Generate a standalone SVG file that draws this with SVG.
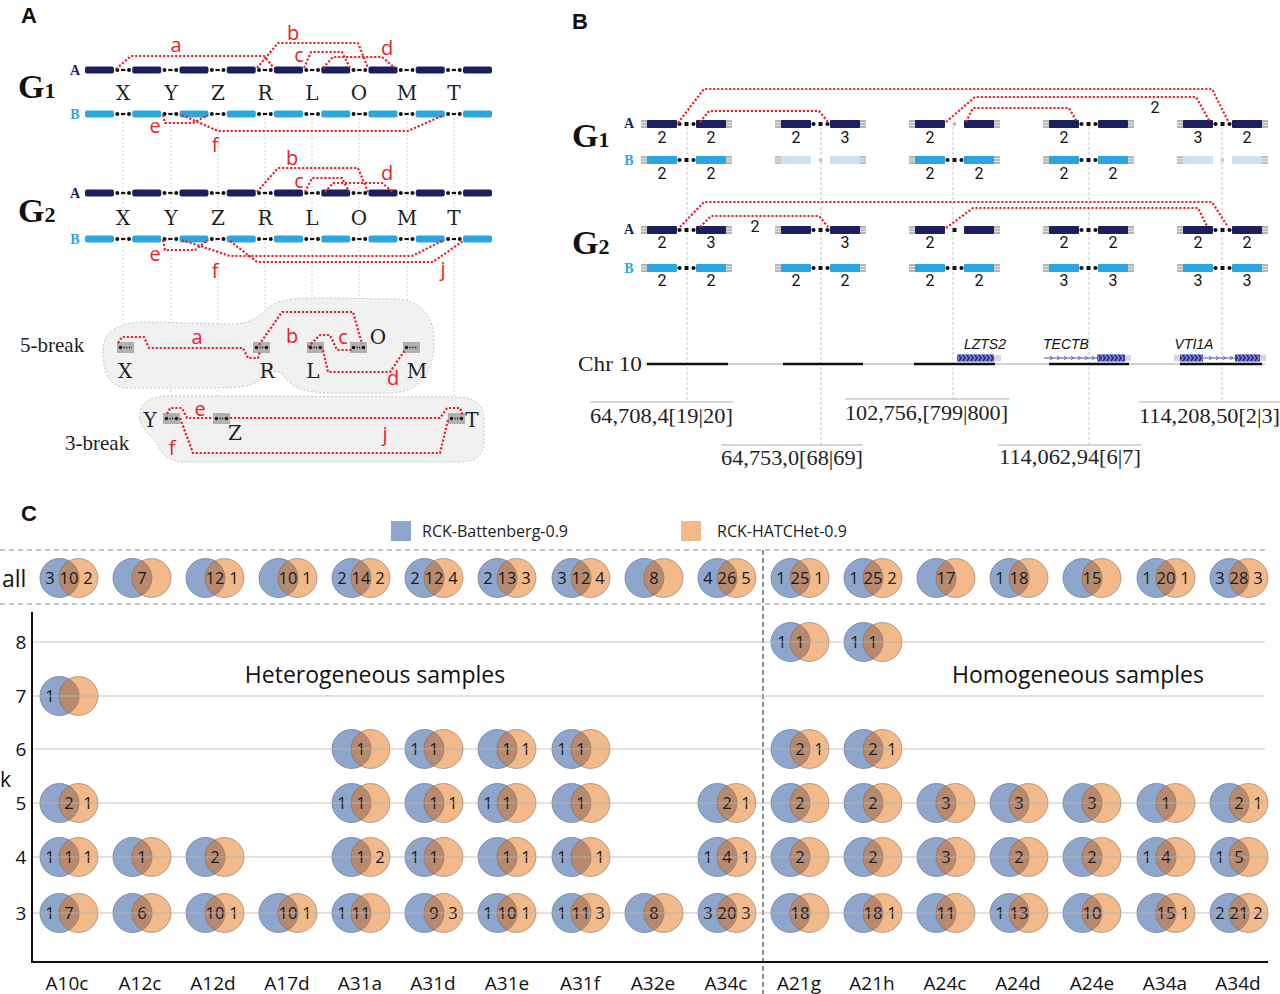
<svg xmlns="http://www.w3.org/2000/svg" width="1280" height="994" viewBox="0 0 1280 994">
<style>
.lbl{font-family:"Liberation Sans",Arial,sans-serif;font-weight:bold;font-size:22px;fill:#111}
.G{font-family:"Liberation Serif",serif;font-weight:bold;fill:#111}
.ab{font-family:"Liberation Serif",serif;font-weight:bold;font-size:14px;text-anchor:middle}
.let{font-family:"DejaVu Serif","Liberation Serif",serif;font-size:20px;fill:#222;text-anchor:middle}
.red{fill:none;stroke:#e8232b;stroke-width:2.2;stroke-dasharray:2.2 1.8}
.rl{font-family:"Open Sans","Liberation Sans",sans-serif;font-size:20px;fill:#e8232b;text-anchor:middle}
.guide{stroke:#c6c6c6;stroke-width:0.8;stroke-dasharray:2 2;fill:none}
.blob{fill:#f1f1f1;stroke:#c4c4c4;stroke-width:1;stroke-dasharray:2 2}
.srf{font-family:"Liberation Serif",serif;font-size:21px;fill:#222}
.bn{font-family:Roboto,"Open Sans",sans-serif;font-size:16px;fill:#111;text-anchor:middle}
.gene{font-family:"Liberation Sans",Arial,sans-serif;font-style:italic;font-size:14px;text-anchor:middle;fill:#111}
.coord{font-family:"Liberation Serif",serif;font-size:22px;fill:#222}
.ovl{stroke:#c8c8c8;stroke-width:1.5}
.bguide{stroke:#b8b8b8;stroke-width:0.8;stroke-dasharray:3 2;fill:none}
.cb{fill:#8ea6cc;stroke:#6c7f9e;stroke-width:0.8}
.co{fill:#e46d0b;fill-opacity:0.48;stroke:#6f5a48;stroke-opacity:0.6;stroke-width:0.8}
.cn{font-family:"Open Sans","Liberation Sans",sans-serif;font-size:16.5px;fill:#1a1a1a;text-anchor:middle}
.ax{font-family:"Open Sans","Liberation Sans",sans-serif;font-size:19px;fill:#111;text-anchor:middle}
.grid{stroke:#b5b5b5;stroke-width:1.2;opacity:0.8}
.big{font-family:"Open Sans","Liberation Sans",sans-serif;font-size:23px;fill:#111;text-anchor:middle}
.leg{font-family:"Open Sans","Liberation Sans",sans-serif;font-size:16px;fill:#222}
</style>
<defs>
<g id="segs">
<rect x="85" y="-3.5" width="29" height="7" rx="2"/><rect x="132.25" y="-3.5" width="29" height="7" rx="2"/><rect x="179.5" y="-3.5" width="29" height="7" rx="2"/><rect x="226.75" y="-3.5" width="29" height="7" rx="2"/><rect x="274" y="-3.5" width="29" height="7" rx="2"/><rect x="321.25" y="-3.5" width="29" height="7" rx="2"/><rect x="368.5" y="-3.5" width="29" height="7" rx="2"/><rect x="415.75" y="-3.5" width="29" height="7" rx="2"/><rect x="463" y="-3.5" width="29" height="7" rx="2"/>
</g>
<g id="gap" fill="#111"><circle cx="3.3" r="2"/><rect x="7" y="-1.1" width="4.3" height="2.2"/><circle cx="15" r="2"/></g>
<g id="gaps">
<use href="#gap" x="114"/><use href="#gap" x="161.25"/><use href="#gap" x="208.5"/><use href="#gap" x="255.75"/><use href="#gap" x="303"/><use href="#gap" x="350.25"/><use href="#gap" x="397.5"/><use href="#gap" x="444.75"/>
</g>
<g id="pair">
<rect x="-6" y="-4" width="7" height="8" fill="#b5b5b5"/><rect x="78" y="-4" width="7" height="8" fill="#b5b5b5"/>
<path d="M-6,-1.3H0M-6,1.3H0M79,-1.3H85M79,1.3H85" stroke="#fff" stroke-width="0.7"/>
<rect x="0" y="-4" width="30" height="8" rx="1"/><rect x="49" y="-4" width="30" height="8" rx="1"/>
</g>
<g id="bgap"><circle cx="32.5" r="2.1"/><rect x="37.5" y="-2" width="4" height="4"/><circle cx="46.5" r="2.1"/></g>
<g id="bx"><rect width="17" height="11" fill="#b0b0b0"/><circle cx="3.5" cy="5.5" r="1.7" fill="#111"/><line x1="6.5" y1="5.5" x2="11.5" y2="5.5" stroke="#111" stroke-width="1.3" stroke-dasharray="1.2 1.2"/><circle cx="13.5" cy="5.5" r="1.7" fill="#111"/></g>
<g id="bx1"><rect width="17" height="11" fill="#b0b0b0"/><circle cx="3.5" cy="5.5" r="1.7" fill="#111"/><line x1="6.5" y1="5.5" x2="15" y2="5.5" stroke="#111" stroke-width="1.3" stroke-dasharray="1.2 1.5"/></g>
<g id="v"><circle cx="-9.5" r="19.5" class="cb"/><circle cx="9.5" r="19.5" class="co"/></g>
<pattern id="chev" width="4" height="8" patternUnits="userSpaceOnUse" y="354"><path d="M0.6,0.6L3.2,4L0.6,7.4" fill="none" stroke="#fff" stroke-width="0.7"/></pattern>
</defs>

<rect width="1280" height="994" fill="#fff"/>

<!-- ============ PANEL A ============ -->
<text class="lbl" x="21" y="23">A</text>
<g id="A-guides">
<path class="guide" d="M123,118V340M171,118V412M218,118V412M265,118V342M312,118V342M359,118V342M407,118V342M454,118V412"/>
</g>
<g id="A-G1">
<text class="G" x="18" y="98" font-size="34">G<tspan font-size="22">1</tspan></text>
<text class="ab" x="75" y="75" fill="#1c1f5e">A</text>
<text class="ab" x="75" y="119" fill="#2aa7df">B</text>
<use href="#segs" y="70" fill="#1c1f5e"/><use href="#gaps" y="70"/>
<use href="#segs" y="114" fill="#2aa7df"/><use href="#gaps" y="114"/>
<text class="let" x="123" y="100">X</text><text class="let" x="171" y="100">Y</text><text class="let" x="218" y="100">Z</text><text class="let" x="265" y="100">R</text><text class="let" x="312" y="100">L</text><text class="let" x="359" y="100">O</text><text class="let" x="407" y="100">M</text><text class="let" x="454" y="100">T</text>
</g>
<g id="A-G2">
<text class="G" x="18" y="222" font-size="34">G<tspan font-size="22">2</tspan></text>
<text class="ab" x="75" y="198" fill="#1c1f5e">A</text>
<text class="ab" x="75" y="244" fill="#2aa7df">B</text>
<use href="#segs" y="193" fill="#1c1f5e"/><use href="#gaps" y="193"/>
<use href="#segs" y="239" fill="#2aa7df"/><use href="#gaps" y="239"/>
<text class="let" x="123" y="225">X</text><text class="let" x="171" y="225">Y</text><text class="let" x="218" y="225">Z</text><text class="let" x="265" y="225">R</text><text class="let" x="312" y="225">L</text><text class="let" x="359" y="225">O</text><text class="let" x="407" y="225">M</text><text class="let" x="454" y="225">T</text>
</g>
<g id="A-5break">
<path class="blob" d="M103,350C103,330 120,322 150,322L225,324C250,325 258,318 268,308C280,298 300,298 330,298L395,299C420,300 434,315 434,340C434,372 420,393 390,393L330,393C300,393 290,385 283,375C276,368 268,372 260,380C250,388 230,388 200,388L130,388C110,388 103,375 103,350Z"/>
<text class="srf" x="20" y="352">5-break</text>
<use href="#bx1" x="117" y="342"/><use href="#bx" x="253" y="342"/><use href="#bx" x="307" y="342"/><use href="#bx" x="350" y="342"/><use href="#bx1" x="403" y="342"/>
<text class="let" x="125" y="378">X</text><text class="let" x="267" y="378">R</text><text class="let" x="313" y="378">L</text><text class="let" x="378" y="344">O</text><text class="let" x="417" y="378">M</text>
</g>
<g id="A-3break">
<path class="blob" d="M140,418C138,402 152,396 170,396L455,397C475,397 484,405 484,420L484,440C484,455 476,462 460,462L185,462C170,462 162,455 158,445C154,436 141,432 140,418Z"/>
<text class="srf" x="65" y="450">3-break</text>
<use href="#bx" x="163" y="413"/><use href="#bx" x="213" y="413"/><use href="#bx" x="448" y="413"/>
<text class="let" x="150" y="427">Y</text><text class="let" x="235" y="440">Z</text><text class="let" x="472" y="427">T</text>
</g>
<g id="A-connectors">
<path class="red" d="M116,69L131,56L264,56L274,68"/>
<path class="red" d="M257,68L278,43L358,43L368,68"/>
<path class="red" d="M304,68L311,52L342,52L350,68"/>
<path class="red" d="M323,68L333,57L382,57L395,68"/>
<path class="red" d="M163,115L165,123L193,123L208,115"/>
<path class="red" d="M182,115L218,131L408,131L444,115"/>
<path class="red" d="M257,192L278,168L358,168L368,192"/>
<path class="red" d="M305,192L312,178L342,178L349,192"/>
<path class="red" d="M325,192L333,183L382,183L393,192"/>
<path class="red" d="M163,240L165,250L195,250L208,240"/>
<path class="red" d="M182,240L230,256L412,256L444,240"/>
<path class="red" d="M230,241L257,262L433,262L463,241"/>
<path class="red" d="M118,343L122,337L144,337L149,348L243,348L248,358L258,358L260,351"/>
<path class="red" d="M259,345L282,312L353,312L362,344"/>
<path class="red" d="M308,347L320,335L330,335L337,350L352,350"/>
<path class="red" d="M323,350L328,372L390,372L405,350"/>
<path class="red" d="M167,414L170,408L182,408L187,418L213,418"/>
<path class="red" d="M230,418L440,418L447,408L460,408L463,416"/>
<path class="red" d="M180,418L193,453L440,453L448,420"/>
<text class="rl" x="176" y="52">a</text><text class="rl" x="293" y="40">b</text><text class="rl" x="299" y="62">c</text><text class="rl" x="387" y="55">d</text><text class="rl" x="155" y="133">e</text><text class="rl" x="215" y="152">f</text>
<text class="rl" x="292" y="165">b</text><text class="rl" x="299" y="188">c</text><text class="rl" x="387" y="180">d</text><text class="rl" x="155" y="261">e</text><text class="rl" x="215" y="278">f</text><text class="rl" x="443" y="276">j</text>
<text class="rl" x="197" y="344">a</text><text class="rl" x="292" y="343">b</text><text class="rl" x="343" y="344">c</text><text class="rl" x="393" y="385">d</text>
<text class="rl" x="200" y="416">e</text><text class="rl" x="385" y="441">j</text><text class="rl" x="172" y="455">f</text>
</g>

<!-- ============ PANEL B ============ -->
<text class="lbl" x="572" y="29">B</text>
<g id="B-guides"><path class="bguide" d="M687,127V402M821,127V445M953,127V399M1089,127V445M1222,127V402"/></g>
<g id="B-G1">
<text class="G" x="572" y="147" font-size="34">G<tspan font-size="22">1</tspan></text>
<text class="ab" x="629" y="128" fill="#1c1f5e">A</text>
<text class="ab" x="629" y="165" fill="#2aa7df">B</text>
<use href="#pair" x="647" y="124" fill="#1c1f5e"/><use href="#bgap" x="647" y="124" fill="#111"/>
<use href="#pair" x="781" y="124" fill="#1c1f5e"/><use href="#bgap" x="781" y="124" fill="#111"/>
<use href="#pair" x="915" y="124" fill="#1c1f5e"/><circle cx="954.5" cy="124" r="2" fill="#bdbdbd"/>
<use href="#pair" x="1049" y="124" fill="#1c1f5e"/><use href="#bgap" x="1049" y="124" fill="#111"/>
<use href="#pair" x="1183" y="124" fill="#1c1f5e"/><use href="#bgap" x="1183" y="124" fill="#111"/>
<use href="#pair" x="647" y="160" fill="#29a6df"/><use href="#bgap" x="647" y="160" fill="#111"/>
<use href="#pair" x="781" y="160" fill="#c3ddf2" opacity="0.85"/><circle cx="820.5" cy="160" r="2" fill="#c8c8c8"/>
<use href="#pair" x="915" y="160" fill="#29a6df"/><use href="#bgap" x="915" y="160" fill="#111"/>
<use href="#pair" x="1049" y="160" fill="#29a6df"/><use href="#bgap" x="1049" y="160" fill="#111"/>
<use href="#pair" x="1183" y="160" fill="#c3ddf2" opacity="0.85"/><circle cx="1222.5" cy="160" r="2" fill="#c8c8c8"/>
<text class="bn" x="662" y="143">2</text><text class="bn" x="711" y="143">2</text><text class="bn" x="796" y="143">2</text><text class="bn" x="845" y="143">3</text><text class="bn" x="930" y="143">2</text><text class="bn" x="1064" y="143">2</text><text class="bn" x="1198" y="143">3</text><text class="bn" x="1247" y="143">2</text>
<text class="bn" x="662" y="179">2</text><text class="bn" x="711" y="179">2</text><text class="bn" x="930" y="179">2</text><text class="bn" x="979" y="179">2</text><text class="bn" x="1064" y="179">2</text><text class="bn" x="1113" y="179">2</text>
</g>
<g id="B-G2">
<text class="G" x="572" y="254" font-size="34">G<tspan font-size="22">2</tspan></text>
<text class="ab" x="629" y="234" fill="#1c1f5e">A</text>
<text class="ab" x="629" y="273" fill="#2aa7df">B</text>
<use href="#pair" x="647" y="230" fill="#1c1f5e"/><use href="#bgap" x="647" y="230" fill="#111"/>
<use href="#pair" x="781" y="230" fill="#1c1f5e"/><use href="#bgap" x="781" y="230" fill="#111"/>
<use href="#pair" x="915" y="230" fill="#1c1f5e"/><rect x="952.5" y="228" width="4" height="4" fill="#111"/>
<use href="#pair" x="1049" y="230" fill="#1c1f5e"/><use href="#bgap" x="1049" y="230" fill="#111"/>
<use href="#pair" x="1183" y="230" fill="#1c1f5e"/><use href="#bgap" x="1183" y="230" fill="#111"/>
<use href="#pair" x="647" y="268" fill="#29a6df"/><use href="#bgap" x="647" y="268" fill="#111"/>
<use href="#pair" x="781" y="268" fill="#29a6df"/><use href="#bgap" x="781" y="268" fill="#111"/>
<use href="#pair" x="915" y="268" fill="#29a6df"/><use href="#bgap" x="915" y="268" fill="#111"/>
<use href="#pair" x="1049" y="268" fill="#29a6df"/><use href="#bgap" x="1049" y="268" fill="#111"/>
<use href="#pair" x="1183" y="268" fill="#29a6df"/><use href="#bgap" x="1183" y="268" fill="#111"/>
<text class="bn" x="662" y="248">2</text><text class="bn" x="711" y="248">3</text><text class="bn" x="845" y="248">3</text><text class="bn" x="930" y="248">2</text><text class="bn" x="1064" y="248">2</text><text class="bn" x="1113" y="248">2</text><text class="bn" x="1198" y="248">2</text><text class="bn" x="1247" y="248">2</text>
<text class="bn" x="662" y="286">2</text><text class="bn" x="711" y="286">2</text><text class="bn" x="796" y="286">2</text><text class="bn" x="845" y="286">2</text><text class="bn" x="930" y="286">2</text><text class="bn" x="979" y="286">2</text><text class="bn" x="1064" y="286">3</text><text class="bn" x="1113" y="286">3</text><text class="bn" x="1198" y="286">3</text><text class="bn" x="1247" y="286">3</text>
</g>
<g id="B-connectors">
<path class="red" d="M678,123L704,89L1212,89L1229,123"/>
<path class="red" d="M946,122L975,97L1196,97L1210,122"/>
<path class="red" d="M700,122L709,111L819,111L828,122"/>
<path class="red" d="M966,122L973,108L1069,108L1077,122"/>
<path class="red" d="M680,227L704,202L1212,202L1228,227"/>
<path class="red" d="M946,228L973,208L1198,208L1207,226"/>
<path class="red" d="M700,227L711,216L819,216L828,227"/>
<text class="bn" x="1155" y="113">2</text>
<text class="bn" x="755" y="232">2</text>
</g>
<g id="B-chr">
<text class="srf" x="578" y="371" textLength="64" lengthAdjust="spacingAndGlyphs">Chr 10</text>
<line x1="645" y1="364" x2="1265" y2="364" stroke="#d0d0d0" stroke-width="2"/>
<path d="M647,364H728M783,364H863M914,364H995M1049,364H1129M1180,364H1262" stroke="#111" stroke-width="2.5"/>
</g>
<g id="B-genes">
<text class="gene" x="985" y="349">LZTS2</text>
<text class="gene" x="1066" y="349">TECTB</text>
<text class="gene" x="1194" y="349">VTI1A</text>
<rect x="957" y="354.5" width="37" height="7" fill="#2d33a0"/><rect x="957" y="354.5" width="37" height="7" fill="url(#chev)"/>
<path d="M994,356H1001M994,358H1001M994,360H1001" stroke="#999" stroke-width="0.8"/>
<line x1="1044" y1="358" x2="1097" y2="358" stroke="#3a3fb0" stroke-width="0.9"/>
<path d="M1050,356l2.5,2l-2.5,2M1057,356l2.5,2l-2.5,2M1064,356l2.5,2l-2.5,2M1071,356l2.5,2l-2.5,2M1078,356l2.5,2l-2.5,2M1085,356l2.5,2l-2.5,2M1092,356l2.5,2l-2.5,2" fill="none" stroke="#3a3fb0" stroke-width="0.8"/>
<rect x="1097" y="354.5" width="28" height="7" fill="#2d33a0"/><rect x="1097" y="354.5" width="28" height="7" fill="url(#chev)"/>
<path d="M1125,356H1131M1125,358H1131M1125,360H1131" stroke="#999" stroke-width="0.8"/>
<path d="M1174,356H1180M1174,358H1180M1174,360H1180" stroke="#999" stroke-width="0.8"/>
<rect x="1180" y="354.5" width="23" height="7" fill="#2d33a0"/><rect x="1180" y="354.5" width="23" height="7" fill="url(#chev)"/>
<line x1="1203" y1="358" x2="1235" y2="358" stroke="#3a3fb0" stroke-width="0.9"/>
<path d="M1209,356l2.5,2l-2.5,2M1216,356l2.5,2l-2.5,2M1223,356l2.5,2l-2.5,2M1230,356l2.5,2l-2.5,2" fill="none" stroke="#3a3fb0" stroke-width="0.8"/>
<rect x="1235" y="354.5" width="25" height="7" fill="#2d33a0"/><rect x="1235" y="354.5" width="25" height="7" fill="url(#chev)"/>
<path d="M1260,356H1266M1260,358H1266M1260,360H1266" stroke="#999" stroke-width="0.8"/>
</g>
<g id="B-coords">
<line class="ovl" x1="590" y1="402" x2="733" y2="402"/><text class="coord" x="590" y="423" textLength="143" lengthAdjust="spacingAndGlyphs">64,708,4[19|20]</text>
<line class="ovl" x1="721" y1="445" x2="863" y2="445"/><text class="coord" x="721" y="465" textLength="142" lengthAdjust="spacingAndGlyphs">64,753,0[68|69]</text>
<line class="ovl" x1="845" y1="399" x2="1009" y2="399"/><text class="coord" x="845" y="420" textLength="163" lengthAdjust="spacingAndGlyphs">102,756,[799|800]</text>
<line class="ovl" x1="998" y1="445" x2="1141" y2="445"/><text class="coord" x="999" y="464" textLength="142" lengthAdjust="spacingAndGlyphs">114,062,94[6|7]</text>
<line class="ovl" x1="1139" y1="402" x2="1280" y2="402"/><text class="coord" x="1139" y="423" textLength="141" lengthAdjust="spacingAndGlyphs">114,208,50[2|3]</text>
</g>

<!-- ============ PANEL C ============ -->
<text class="lbl" x="21" y="521">C</text>
<g id="legend">
<rect x="391" y="521" width="20" height="20" fill="#8ea6cc"/>
<text class="leg" x="422" y="537">RCK-Battenberg-0.9</text>
<rect x="681" y="521" width="20" height="20" fill="#f2b98a"/>
<text class="leg" x="717" y="537">RCK-HATCHet-0.9</text>
</g>
<g id="C-frame">
<path d="M0,550H1268M0,604H1268" stroke="#8a8a8a" stroke-width="1.2" stroke-dasharray="5 4"/>
<line x1="763" y1="550" x2="763" y2="994" stroke="#444" stroke-width="1.2" stroke-dasharray="5 3"/>
<text x="2" y="587" font-family="Open Sans, Liberation Sans, sans-serif" font-size="23" fill="#111">all</text>
<path d="M32,612V962H1268" stroke="#111" stroke-width="2" fill="none"/>
<text class="ax" x="21" y="649">8</text><text class="ax" x="21" y="703">7</text><text class="ax" x="21" y="756">6</text><text class="ax" x="21" y="810">5</text><text class="ax" x="21" y="864">4</text><text class="ax" x="21" y="920">3</text>
<text x="0" y="787" font-family="Open Sans, Liberation Sans, sans-serif" font-size="21" fill="#111">k</text>
<text class="big" x="375" y="683">Heterogeneous samples</text>
<text class="big" x="1078" y="683">Homogeneous samples</text>
</g>

<g id="col-A10c">
<use href="#v" x="69" y="578"/><use href="#v" x="69" y="696"/><use href="#v" x="69" y="803"/><use href="#v" x="69" y="857"/><use href="#v" x="69" y="913"/>
<text class="cn" x="50" y="584">3</text><text class="cn" x="69" y="584">10</text><text class="cn" x="88" y="584">2</text>
<text class="cn" x="50" y="702">1</text>
<text class="cn" x="69" y="809">2</text><text class="cn" x="88" y="809">1</text>
<text class="cn" x="50" y="863">1</text><text class="cn" x="69" y="863">1</text><text class="cn" x="88" y="863">1</text>
<text class="cn" x="50" y="919">1</text><text class="cn" x="69" y="919">7</text>
<text class="ax" x="67" y="990">A10c</text>
</g>
<g id="col-A12c">
<use href="#v" x="142" y="578"/><use href="#v" x="142" y="857"/><use href="#v" x="142" y="913"/>
<text class="cn" x="142" y="584">7</text><text class="cn" x="142" y="863">1</text><text class="cn" x="142" y="919">6</text>
<text class="ax" x="140" y="990">A12c</text>
</g>
<g id="col-A12d">
<use href="#v" x="215" y="578"/><use href="#v" x="215" y="857"/><use href="#v" x="215" y="913"/>
<text class="cn" x="215" y="584">12</text><text class="cn" x="234" y="584">1</text>
<text class="cn" x="215" y="863">2</text>
<text class="cn" x="215" y="919">10</text><text class="cn" x="234" y="919">1</text>
<text class="ax" x="213" y="990">A12d</text>
</g>
<g id="col-A17d">
<use href="#v" x="288" y="578"/><use href="#v" x="288" y="913"/>
<text class="cn" x="288" y="584">10</text><text class="cn" x="307" y="584">1</text>
<text class="cn" x="288" y="919">10</text><text class="cn" x="307" y="919">1</text>
<text class="ax" x="287" y="990">A17d</text>
</g>
<g id="col-A31a">
<use href="#v" x="361" y="578"/><use href="#v" x="361" y="749"/><use href="#v" x="361" y="803"/><use href="#v" x="361" y="857"/><use href="#v" x="361" y="913"/>
<text class="cn" x="342" y="584">2</text><text class="cn" x="361" y="584">14</text><text class="cn" x="380" y="584">2</text>
<text class="cn" x="361" y="755">1</text>
<text class="cn" x="342" y="809">1</text><text class="cn" x="361" y="809">1</text>
<text class="cn" x="361" y="863">1</text><text class="cn" x="380" y="863">2</text>
<text class="cn" x="342" y="919">1</text><text class="cn" x="361" y="919">11</text>
<text class="ax" x="360" y="990">A31a</text>
</g>
<g id="col-A31d">
<use href="#v" x="434" y="578"/><use href="#v" x="434" y="749"/><use href="#v" x="434" y="803"/><use href="#v" x="434" y="857"/><use href="#v" x="434" y="913"/>
<text class="cn" x="415" y="584">2</text><text class="cn" x="434" y="584">12</text><text class="cn" x="453" y="584">4</text>
<text class="cn" x="415" y="755">1</text><text class="cn" x="434" y="755">1</text>
<text class="cn" x="434" y="809">1</text><text class="cn" x="453" y="809">1</text>
<text class="cn" x="415" y="863">1</text><text class="cn" x="434" y="863">1</text>
<text class="cn" x="434" y="919">9</text><text class="cn" x="453" y="919">3</text>
<text class="ax" x="433" y="990">A31d</text>
</g>
<g id="col-A31e">
<use href="#v" x="507" y="578"/><use href="#v" x="507" y="749"/><use href="#v" x="507" y="803"/><use href="#v" x="507" y="857"/><use href="#v" x="507" y="913"/>
<text class="cn" x="488" y="584">2</text><text class="cn" x="507" y="584">13</text><text class="cn" x="526" y="584">3</text>
<text class="cn" x="507" y="755">1</text><text class="cn" x="526" y="755">1</text>
<text class="cn" x="488" y="809">1</text><text class="cn" x="507" y="809">1</text>
<text class="cn" x="507" y="863">1</text><text class="cn" x="526" y="863">1</text>
<text class="cn" x="488" y="919">1</text><text class="cn" x="507" y="919">10</text><text class="cn" x="526" y="919">1</text>
<text class="ax" x="507" y="990">A31e</text>
</g>
<g id="col-A31f">
<use href="#v" x="581" y="578"/><use href="#v" x="581" y="749"/><use href="#v" x="581" y="803"/><use href="#v" x="581" y="857"/><use href="#v" x="581" y="913"/>
<text class="cn" x="562" y="584">3</text><text class="cn" x="581" y="584">12</text><text class="cn" x="600" y="584">4</text>
<text class="cn" x="562" y="755">1</text><text class="cn" x="581" y="755">1</text>
<text class="cn" x="581" y="809">1</text>
<text class="cn" x="562" y="863">1</text><text class="cn" x="600" y="863">1</text>
<text class="cn" x="562" y="919">1</text><text class="cn" x="581" y="919">11</text><text class="cn" x="600" y="919">3</text>
<text class="ax" x="580" y="990">A31f</text>
</g>
<g id="col-A32e">
<use href="#v" x="654" y="578"/><use href="#v" x="654" y="913"/>
<text class="cn" x="654" y="584">8</text><text class="cn" x="654" y="919">8</text>
<text class="ax" x="653" y="990">A32e</text>
</g>
<g id="col-A34c">
<use href="#v" x="727" y="578"/><use href="#v" x="727" y="803"/><use href="#v" x="727" y="857"/><use href="#v" x="727" y="913"/>
<text class="cn" x="708" y="584">4</text><text class="cn" x="727" y="584">26</text><text class="cn" x="746" y="584">5</text>
<text class="cn" x="727" y="809">2</text><text class="cn" x="746" y="809">1</text>
<text class="cn" x="708" y="863">1</text><text class="cn" x="727" y="863">4</text><text class="cn" x="746" y="863">1</text>
<text class="cn" x="708" y="919">3</text><text class="cn" x="727" y="919">20</text><text class="cn" x="746" y="919">3</text>
<text class="ax" x="726" y="990">A34c</text>
</g>
<g id="col-A21g">
<use href="#v" x="800" y="578"/><use href="#v" x="800" y="642"/><use href="#v" x="800" y="749"/><use href="#v" x="800" y="803"/><use href="#v" x="800" y="857"/><use href="#v" x="800" y="913"/>
<text class="cn" x="781" y="584">1</text><text class="cn" x="800" y="584">25</text><text class="cn" x="819" y="584">1</text>
<text class="cn" x="782" y="648">1</text><text class="cn" x="800" y="648">1</text>
<text class="cn" x="800" y="755">2</text><text class="cn" x="819" y="755">1</text>
<text class="cn" x="800" y="809">2</text>
<text class="cn" x="800" y="863">2</text>
<text class="cn" x="800" y="919">18</text>
<text class="ax" x="799" y="990">A21g</text>
</g>
<g id="col-A21h">
<use href="#v" x="873" y="578"/><use href="#v" x="873" y="642"/><use href="#v" x="873" y="749"/><use href="#v" x="873" y="803"/><use href="#v" x="873" y="857"/><use href="#v" x="873" y="913"/>
<text class="cn" x="854" y="584">1</text><text class="cn" x="873" y="584">25</text><text class="cn" x="892" y="584">2</text>
<text class="cn" x="855" y="648">1</text><text class="cn" x="873" y="648">1</text>
<text class="cn" x="873" y="755">2</text><text class="cn" x="892" y="755">1</text>
<text class="cn" x="873" y="809">2</text>
<text class="cn" x="873" y="863">2</text>
<text class="cn" x="873" y="919">18</text><text class="cn" x="892" y="919">1</text>
<text class="ax" x="872" y="990">A21h</text>
</g>
<g id="col-A24c">
<use href="#v" x="946" y="578"/><use href="#v" x="946" y="803"/><use href="#v" x="946" y="857"/><use href="#v" x="946" y="913"/>
<text class="cn" x="946" y="584">17</text><text class="cn" x="946" y="809">3</text><text class="cn" x="946" y="863">3</text><text class="cn" x="946" y="919">11</text>
<text class="ax" x="945" y="990">A24c</text>
</g>
<g id="col-A24d">
<use href="#v" x="1019" y="578"/><use href="#v" x="1019" y="803"/><use href="#v" x="1019" y="857"/><use href="#v" x="1019" y="913"/>
<text class="cn" x="1000" y="584">1</text><text class="cn" x="1019" y="584">18</text>
<text class="cn" x="1019" y="809">3</text><text class="cn" x="1019" y="863">2</text>
<text class="cn" x="1000" y="919">1</text><text class="cn" x="1019" y="919">13</text>
<text class="ax" x="1018" y="990">A24d</text>
</g>
<g id="col-A24e">
<use href="#v" x="1092" y="578"/><use href="#v" x="1092" y="803"/><use href="#v" x="1092" y="857"/><use href="#v" x="1092" y="913"/>
<text class="cn" x="1092" y="584">15</text><text class="cn" x="1092" y="809">3</text><text class="cn" x="1092" y="863">2</text><text class="cn" x="1092" y="919">10</text>
<text class="ax" x="1092" y="990">A24e</text>
</g>
<g id="col-A34a">
<use href="#v" x="1166" y="578"/><use href="#v" x="1166" y="803"/><use href="#v" x="1166" y="857"/><use href="#v" x="1166" y="913"/>
<text class="cn" x="1147" y="584">1</text><text class="cn" x="1166" y="584">20</text><text class="cn" x="1185" y="584">1</text>
<text class="cn" x="1166" y="809">1</text>
<text class="cn" x="1147" y="863">1</text><text class="cn" x="1166" y="863">4</text>
<text class="cn" x="1166" y="919">15</text><text class="cn" x="1185" y="919">1</text>
<text class="ax" x="1165" y="990">A34a</text>
</g>
<g id="col-A34d">
<use href="#v" x="1239" y="578"/><use href="#v" x="1239" y="803"/><use href="#v" x="1239" y="857"/><use href="#v" x="1239" y="913"/>
<text class="cn" x="1220" y="584">3</text><text class="cn" x="1239" y="584">28</text><text class="cn" x="1258" y="584">3</text>
<text class="cn" x="1239" y="809">2</text><text class="cn" x="1258" y="809">1</text>
<text class="cn" x="1220" y="863">1</text><text class="cn" x="1239" y="863">5</text>
<text class="cn" x="1220" y="919">2</text><text class="cn" x="1239" y="919">21</text><text class="cn" x="1258" y="919">2</text>
<text class="ax" x="1238" y="990">A34d</text>
</g>
<g id="C-grid">
<path class="grid" d="M33,642H1265M33,696H1265M33,749H1265M33,803H1265M33,857H1265M33,913H1265"/>
</g>
</svg>
